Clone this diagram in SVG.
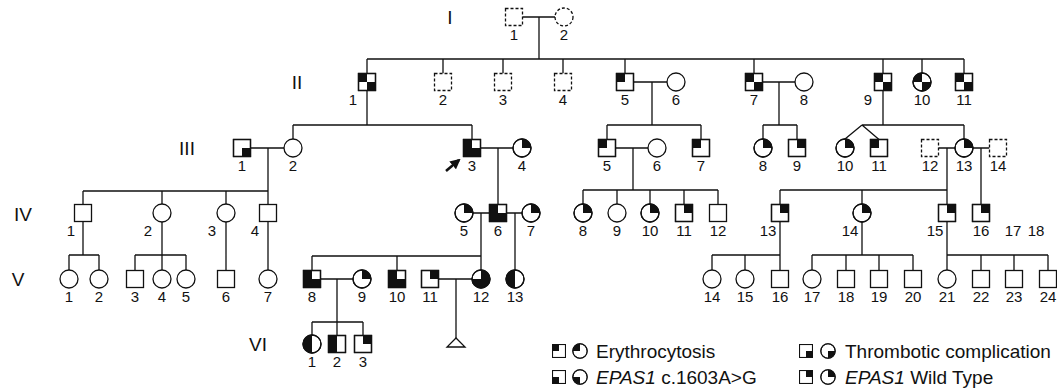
<svg xmlns="http://www.w3.org/2000/svg" xmlns:xlink="http://www.w3.org/1999/xlink" width="1057" height="390" viewBox="0 0 1057 390">
<style>
.s{fill:#fff;stroke:#111;stroke-width:1.3}
.d{stroke-dasharray:3,2}
.f{fill:#111}
.l{fill:none;stroke:#111;stroke-width:1.3}
text{font-family:"Liberation Sans",Arial,sans-serif;fill:#111}
.lb{font-size:15px;text-anchor:middle}
.g{font-size:19px;text-anchor:middle}
.lg{font-size:19px}
</style>
<defs>
<rect id="sq" class="s" x="-8.5" y="-8.5" width="17" height="17"/>
<rect id="sqd" class="s d" x="-8.5" y="-8.5" width="17" height="17"/>
<circle id="ci" class="s" r="9"/>
<circle id="cid" class="s d" r="9"/>
<rect id="sTL" class="f" x="-8.5" y="-8.5" width="8.5" height="8.5"/>
<rect id="sTR" class="f" x="0" y="-8.5" width="8.5" height="8.5"/>
<rect id="sBL" class="f" x="-8.5" y="0" width="8.5" height="8.5"/>
<rect id="sBR" class="f" x="0" y="0" width="8.5" height="8.5"/>
<path id="cTL" class="f" d="M0,0V-9A9,9 0 0 0 -9,0Z"/>
<path id="cTR" class="f" d="M0,0V-9A9,9 0 0 1 9,0Z"/>
<path id="cBR" class="f" d="M0,0H9A9,9 0 0 1 0,9Z"/>
<path id="cBL" class="f" d="M0,0V9A9,9 0 0 1 -9,0Z"/>
<rect id="sqO" fill="none" stroke="#111" stroke-width="1.3" x="-8.5" y="-8.5" width="17" height="17"/>
<circle id="ciO" fill="none" stroke="#111" stroke-width="1.3" r="9"/>
<marker id="ah" viewBox="0 0 10 10" refX="8" refY="5" markerWidth="4" markerHeight="4" orient="auto"><path d="M0,0L10,5L0,10Z" fill="#111"/></marker>
</defs>

<g id="generation-labels">
<text class="g" x="450" y="24">I</text>
<text class="g" x="297" y="89">II</text>
<text class="g" x="187" y="155">III</text>
<text class="g" x="23" y="221">IV</text>
<text class="g" x="18" y="286">V</text>
<text class="g" x="258" y="351">VI</text>
</g>

<g id="connectors" class="l">
<path d="M522.5,17H555M539,17V59M367,59H964M443,59V73.5M503,59V73.5M563,59V73.5M625,59V73.5M754,59V73.5M883,59V73.5M922,59V73M964,59V73.5M367,59V73.5"/>
<path d="M633.5,82H667M652,82V125M762.5,82H795M779,82V125M367,90.5V125M883,90.5V125"/>
<path d="M293,125H472M293,125V139M472,125V139.5M250.5,148H284M268,148V191M480.5,148H513M498,148V204.5"/>
<path d="M607,125H701M607,125V139.5M701,125V139.5M615.5,148H648M633,148V190"/>
<path d="M763,125H797M763,125V139M797,125V139.5"/>
<path d="M862,125H964M862,125L845,139M862,125L879,139.5M964,125V139M938.5,148H955M947,148V190M973,148H989.5M981,148V204.5"/>
<path d="M83,191H268M83,191V204.5M162,191V204M226,191V204M268,191V204.5"/>
<path d="M83,221.5V255M69,255H99M69,255V270M99,255V270M162,222V270M135,255H186M135,255V270.5M186,255V270M226,222V270.5M268,221.5V270"/>
<path d="M473,213H489.5M481,213V270M506.5,213H522M515,213V270M312,256H481M312,256V270.5M397,256V270.5"/>
<path d="M583,190H718M583,190V204M617,190V204M650,190V204M684,190V204.5M718,190V204.5"/>
<path d="M780,190H947M780,190V204.5M862,190V204M947,190V204.5"/>
<path d="M780,221.5V270.5M712,255H780M712,255V270M745,255V270M862,222V255M812,255H913M812,255V270M846,255V270.5M879,255V270.5M913,255V270.5M947,221.5V270M947,255H1048M981,255V270.5M1014,255V270.5M1048,255V270.5"/>
<path d="M320.5,279H353M337,279V322M312,322H363M312,322V335M337,322V335.5M363,322V335.5M438.5,279H472M456,279V338"/>
<path d="M456,338L447,347H465Z"/>
<path d="M446,171L459,160" stroke-width="2.6" marker-end="url(#ah)"/>
</g>

<g id="I-1" transform="translate(514,17)"><use href="#sqd"/><text class="lb" y="23">1</text></g>
<g id="I-2" transform="translate(564,17)"><use href="#cid"/><text class="lb" y="23">2</text></g>

<g id="II-1" transform="translate(367,82)"><use href="#sq"/><use href="#sTL"/><use href="#sBR"/><use href="#sqO"/><text class="lb" x="-14" y="23">1</text></g>
<g id="II-2" transform="translate(443,82)"><use href="#sqd"/><text class="lb" y="23">2</text></g>
<g id="II-3" transform="translate(503,82)"><use href="#sqd"/><text class="lb" y="23">3</text></g>
<g id="II-4" transform="translate(563,82)"><use href="#sqd"/><text class="lb" y="23">4</text></g>
<g id="II-5" transform="translate(625,82)"><use href="#sq"/><use href="#sTL"/><use href="#sqO"/><text class="lb" y="23">5</text></g>
<g id="II-6" transform="translate(676,82)"><use href="#ci"/><text class="lb" y="23">6</text></g>
<g id="II-7" transform="translate(754,82)"><use href="#sq"/><use href="#sTL"/><use href="#sBR"/><use href="#sqO"/><text class="lb" y="23">7</text></g>
<g id="II-8" transform="translate(804,82)"><use href="#ci"/><text class="lb" y="23">8</text></g>
<g id="II-9" transform="translate(883,82)"><use href="#sq"/><use href="#sTL"/><use href="#sBR"/><use href="#sqO"/><text class="lb" x="-15" y="23">9</text></g>
<g id="II-10" transform="translate(922,82)"><use href="#ci"/><use href="#cTL"/><use href="#cBR"/><use href="#ciO"/><text class="lb" y="23">10</text></g>
<g id="II-11" transform="translate(964,82)"><use href="#sq"/><use href="#sTL"/><use href="#sBR"/><use href="#sqO"/><text class="lb" y="23">11</text></g>

<g id="III-1" transform="translate(242,148)"><use href="#sq"/><use href="#sBR"/><use href="#sqO"/><text class="lb" y="23">1</text></g>
<g id="III-2" transform="translate(293,148)"><use href="#ci"/><text class="lb" y="23">2</text></g>
<g id="III-3" transform="translate(472,148)"><use href="#sq"/><use href="#sTL"/><use href="#sBL"/><use href="#sBR"/><use href="#sqO"/><text class="lb" y="23">3</text></g>
<g id="III-4" transform="translate(522,148)"><use href="#ci"/><use href="#cTR"/><use href="#ciO"/><text class="lb" y="23">4</text></g>
<g id="III-5" transform="translate(607,148)"><use href="#sq"/><use href="#sTL"/><use href="#sqO"/><text class="lb" y="23">5</text></g>
<g id="III-6" transform="translate(657,148)"><use href="#ci"/><text class="lb" y="23">6</text></g>
<g id="III-7" transform="translate(701,148)"><use href="#sq"/><use href="#sTL"/><use href="#sqO"/><text class="lb" y="23">7</text></g>
<g id="III-8" transform="translate(763,148)"><use href="#ci"/><use href="#cTR"/><use href="#ciO"/><text class="lb" y="23">8</text></g>
<g id="III-9" transform="translate(797,148)"><use href="#sq"/><use href="#sTR"/><use href="#sqO"/><text class="lb" y="23">9</text></g>
<g id="III-10" transform="translate(845,148)"><use href="#ci"/><use href="#cTR"/><use href="#ciO"/><text class="lb" y="23">10</text></g>
<g id="III-11" transform="translate(879,148)"><use href="#sq"/><use href="#sTL"/><use href="#sqO"/><text class="lb" y="23">11</text></g>
<g id="III-12" transform="translate(930,148)"><use href="#sqd"/><text class="lb" y="23">12</text></g>
<g id="III-13" transform="translate(964,148)"><use href="#ci"/><use href="#cTR"/><use href="#ciO"/><text class="lb" y="23">13</text></g>
<g id="III-14" transform="translate(998,148)"><use href="#sqd"/><text class="lb" y="23">14</text></g>

<g id="IV-1" transform="translate(83,213)"><use href="#sq"/><text class="lb" x="-12" y="23">1</text></g>
<g id="IV-2" transform="translate(162,213)"><use href="#ci"/><text class="lb" x="-14" y="23">2</text></g>
<g id="IV-3" transform="translate(226,213)"><use href="#ci"/><text class="lb" x="-14" y="23">3</text></g>
<g id="IV-4" transform="translate(268,213)"><use href="#sq"/><text class="lb" x="-13" y="23">4</text></g>
<g id="IV-5" transform="translate(464,213)"><use href="#ci"/><use href="#cTR"/><use href="#ciO"/><text class="lb" y="23">5</text></g>
<g id="IV-6" transform="translate(498,213)"><use href="#sq"/><use href="#sTL"/><use href="#sBL"/><use href="#sBR"/><use href="#sqO"/><text class="lb" y="23">6</text></g>
<g id="IV-7" transform="translate(531,213)"><use href="#ci"/><use href="#cTR"/><use href="#ciO"/><text class="lb" y="23">7</text></g>
<g id="IV-8" transform="translate(583,213)"><use href="#ci"/><use href="#cTR"/><use href="#ciO"/><text class="lb" y="23">8</text></g>
<g id="IV-9" transform="translate(617,213)"><use href="#ci"/><text class="lb" y="23">9</text></g>
<g id="IV-10" transform="translate(650,213)"><use href="#ci"/><use href="#cTR"/><use href="#ciO"/><text class="lb" y="23">10</text></g>
<g id="IV-11" transform="translate(684,213)"><use href="#sq"/><use href="#sTR"/><use href="#sqO"/><text class="lb" y="23">11</text></g>
<g id="IV-12" transform="translate(718,213)"><use href="#sq"/><text class="lb" y="23">12</text></g>
<g id="IV-13" transform="translate(780,213)"><use href="#sq"/><use href="#sTR"/><use href="#sqO"/><text class="lb" x="-12" y="23">13</text></g>
<g id="IV-14" transform="translate(862,213)"><use href="#ci"/><use href="#cTR"/><use href="#ciO"/><text class="lb" x="-12" y="23">14</text></g>
<g id="IV-15" transform="translate(947,213)"><use href="#sq"/><use href="#sTR"/><use href="#sqO"/><text class="lb" x="-12" y="23">15</text></g>
<g id="IV-16" transform="translate(981,213)"><use href="#sq"/><use href="#sTR"/><use href="#sqO"/><text class="lb" y="23">16</text></g>
<g id="IV-17-18"><text class="lb" x="1013" y="236">17</text><text class="lb" x="1036" y="236">18</text></g>

<g id="V-1" transform="translate(69,279)"><use href="#ci"/><text class="lb" y="23">1</text></g>
<g id="V-2" transform="translate(99,279)"><use href="#ci"/><text class="lb" y="23">2</text></g>
<g id="V-3" transform="translate(135,279)"><use href="#sq"/><text class="lb" y="23">3</text></g>
<g id="V-4" transform="translate(162,279)"><use href="#ci"/><text class="lb" y="23">4</text></g>
<g id="V-5" transform="translate(186,279)"><use href="#ci"/><text class="lb" y="23">5</text></g>
<g id="V-6" transform="translate(226,279)"><use href="#sq"/><text class="lb" y="23">6</text></g>
<g id="V-7" transform="translate(268,279)"><use href="#ci"/><text class="lb" y="23">7</text></g>
<g id="V-8" transform="translate(312,279)"><use href="#sq"/><use href="#sTL"/><use href="#sBL"/><use href="#sBR"/><use href="#sqO"/><text class="lb" y="23">8</text></g>
<g id="V-9" transform="translate(362,279)"><use href="#ci"/><use href="#cTR"/><use href="#ciO"/><text class="lb" y="23">9</text></g>
<g id="V-10" transform="translate(397,279)"><use href="#sq"/><use href="#sTL"/><use href="#sBL"/><use href="#sBR"/><use href="#sqO"/><text class="lb" y="23">10</text></g>
<g id="V-11" transform="translate(430,279)"><use href="#sq"/><use href="#sTR"/><use href="#sqO"/><text class="lb" y="23">11</text></g>
<g id="V-12" transform="translate(481,279)"><use href="#ci"/><use href="#cTR"/><use href="#cBL"/><use href="#cBR"/><use href="#ciO"/><text class="lb" y="23">12</text></g>
<g id="V-13" transform="translate(515,279)"><use href="#ci"/><use href="#cTL"/><use href="#cBL"/><use href="#ciO"/><text class="lb" y="23">13</text></g>
<g id="V-14" transform="translate(712,279)"><use href="#ci"/><text class="lb" y="23">14</text></g>
<g id="V-15" transform="translate(745,279)"><use href="#ci"/><text class="lb" y="23">15</text></g>
<g id="V-16" transform="translate(780,279)"><use href="#sq"/><text class="lb" y="23">16</text></g>
<g id="V-17" transform="translate(812,279)"><use href="#ci"/><text class="lb" y="23">17</text></g>
<g id="V-18" transform="translate(846,279)"><use href="#sq"/><text class="lb" y="23">18</text></g>
<g id="V-19" transform="translate(879,279)"><use href="#sq"/><text class="lb" y="23">19</text></g>
<g id="V-20" transform="translate(913,279)"><use href="#sq"/><text class="lb" y="23">20</text></g>
<g id="V-21" transform="translate(947,279)"><use href="#ci"/><text class="lb" y="23">21</text></g>
<g id="V-22" transform="translate(981,279)"><use href="#sq"/><text class="lb" y="23">22</text></g>
<g id="V-23" transform="translate(1014,279)"><use href="#sq"/><text class="lb" y="23">23</text></g>
<g id="V-24" transform="translate(1048,279)"><use href="#sq"/><text class="lb" y="23">24</text></g>

<g id="VI-1" transform="translate(312,344)"><use href="#ci"/><use href="#cTL"/><use href="#cBL"/><use href="#ciO"/><text class="lb" y="23">1</text></g>
<g id="VI-2" transform="translate(337,344)"><use href="#sq"/><use href="#sTL"/><use href="#sBL"/><use href="#sqO"/><text class="lb" y="23">2</text></g>
<g id="VI-3" transform="translate(363,344)"><use href="#sq"/><use href="#sTR"/><use href="#sqO"/><text class="lb" y="23">3</text></g>

<g id="legend">
<g transform="translate(559,351) scale(0.76)"><use href="#sq"/><use href="#sTL"/><use href="#sqO"/></g>
<g transform="translate(580,351) scale(0.8)"><use href="#ci"/><use href="#cTL"/><use href="#ciO"/></g>
<text class="lg" x="596" y="358">Erythrocytosis</text>
<g transform="translate(559,377) scale(0.76)"><use href="#sq"/><use href="#sBL"/><use href="#sqO"/></g>
<g transform="translate(580,377) scale(0.8)"><use href="#ci"/><use href="#cBL"/><use href="#ciO"/></g>
<text class="lg" x="596" y="384"><tspan font-style="italic">EPAS1</tspan> c.1603A&gt;G</text>
<g transform="translate(806,351) scale(0.76)"><use href="#sq"/><use href="#sBR"/><use href="#sqO"/></g>
<g transform="translate(828,351) scale(0.8)"><use href="#ci"/><use href="#cBR"/><use href="#ciO"/></g>
<text class="lg" x="845" y="358">Thrombotic complication</text>
<g transform="translate(806,377) scale(0.76)"><use href="#sq"/><use href="#sTR"/><use href="#sqO"/></g>
<g transform="translate(828,377) scale(0.8)"><use href="#ci"/><use href="#cTR"/><use href="#ciO"/></g>
<text class="lg" x="845" y="384"><tspan font-style="italic">EPAS1</tspan> Wild Type</text>
</g>
</svg>
